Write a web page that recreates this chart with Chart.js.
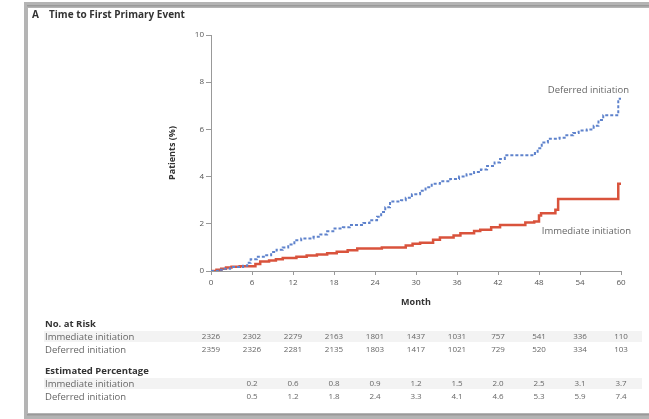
<!DOCTYPE html>
<html>
<head>
<meta charset="utf-8">
<script src="https://cdn.jsdelivr.net/npm/chart.js@4.4.0/dist/chart.umd.min.js"></script>
<style>
  html, body { margin: 0; padding: 0; background: #fff; overflow: hidden; }
  canvas { display: block; }
</style>
</head>
<body>
<canvas id="c" width="649" height="419"></canvas>
<script>
// ---- Data ----
const monthTicks = [0, 6, 12, 18, 24, 30, 36, 42, 48, 54, 60];
const yTicks = [0, 2, 4, 6, 8, 10];

// Step points (month, cumulative %)
const deferredMonths = [0, 1, 2, 2.8, 4.7, 5.3, 5.8, 6.7, 7.9, 8.8, 9.6, 10.5, 11.3, 12.2, 13.2, 15, 16, 17, 17.9, 19.3, 20.3, 22.3, 23.2, 24.3, 24.9, 25.5, 26.2, 27.8, 28.5, 29.4, 30.6, 31.4, 32.3, 33.5, 35, 36.3, 37.4, 38.5, 39.5, 40.4, 41.5, 42.3, 43, 47.4, 47.8, 48.4, 49.3, 51, 52, 53, 53.8, 55, 56, 56.7, 57.4, 59.6, 60];
const deferredPct    = [0, 0.05, 0.1, 0.17, 0.22, 0.35, 0.5, 0.6, 0.67, 0.8, 0.9, 1.0, 1.12, 1.3, 1.38, 1.45, 1.55, 1.68, 1.8, 1.85, 1.95, 2.03, 2.15, 2.3, 2.5, 2.7, 2.95, 3.0, 3.1, 3.25, 3.4, 3.55, 3.7, 3.8, 3.9, 4.0, 4.1, 4.2, 4.3, 4.45, 4.6, 4.75, 4.9, 5.0, 5.2, 5.45, 5.6, 5.65, 5.75, 5.85, 5.95, 6.0, 6.15, 6.4, 6.6, 7.3, 7.3];

const immediateMonths = [0, 0.8, 1.5, 2.2, 3, 4.2, 6.5, 7.2, 8.5, 9.5, 10.5, 12.5, 14, 15.5, 17, 18.4, 20, 21.4, 25, 28.5, 29.5, 30.6, 32.5, 33.5, 35.5, 36.5, 38.5, 39.4, 41, 42.3, 46, 47.3, 48, 48.3, 50.4, 50.8, 59.6, 60];
const immediatePct    = [0, 0.05, 0.1, 0.15, 0.18, 0.2, 0.3, 0.4, 0.45, 0.5, 0.55, 0.6, 0.66, 0.7, 0.75, 0.82, 0.88, 0.95, 1.0, 1.08, 1.15, 1.2, 1.32, 1.42, 1.5, 1.6, 1.7, 1.75, 1.85, 1.95, 2.05, 2.1, 2.35, 2.45, 2.6, 3.05, 3.7, 3.7];

const riskImmediate = ["2326", "2302", "2279", "2163", "1801", "1437", "1031", "757", "541", "336", "110"];
const riskDeferred  = ["2359", "2326", "2281", "2135", "1803", "1417", "1021", "729", "520", "334", "103"];
const pctImmediate  = ["", "0.2", "0.6", "0.8", "0.9", "1.2", "1.5", "2.0", "2.5", "3.1", "3.7"];
const pctDeferred   = ["", "0.5", "1.2", "1.8", "2.4", "3.3", "4.1", "4.6", "5.3", "5.9", "7.4"];

const FONT = '"Open Sans", Lato, sans-serif';

function toXY(xs, ys) { return xs.map((x, i) => ({ x: x, y: ys[i] })); }

const framePlugin = {
  id: 'frame',
  beforeDraw(chart) {
    const ctx = chart.ctx;
    ctx.save();
    ctx.fillStyle = '#fff';
    ctx.fillRect(0, 0, chart.width, chart.height);
    ctx.fillStyle = '#b4b4b4';
    ctx.fillRect(24, 2, chart.width - 24, 6);   // top
    ctx.fillRect(24, 2, 4, 417);                 // left
    ctx.fillRect(24, 413, chart.width - 24, 6);  // bottom
    ctx.fillStyle = '#999';
    ctx.fillRect(27, 5, chart.width - 27, 1.5);
    ctx.fillRect(27, 414, chart.width - 27, 1.5);
    ctx.restore();
  }
};

const textPlugin = {
  id: 'texts',
  afterDraw(chart) {
    const ctx = chart.ctx;
    const xs = chart.scales.x;
    const ca = chart.chartArea;
    ctx.save();
    // Panel title
    ctx.fillStyle = '#333';
    ctx.textBaseline = 'middle';
    ctx.textAlign = 'left';
    ctx.font = 'bold 10px ' + FONT;
    ctx.fillText('A', 32, 15);
    ctx.fillText('Time to First Primary Event', 49, 15);

    // Axis titles
    ctx.font = 'bold 9px ' + FONT;
    ctx.textAlign = 'center';
    ctx.fillText('Month', (ca.left + ca.right) / 2, 302);
    ctx.save();
    ctx.translate(172, (ca.top + ca.bottom) / 2);
    ctx.rotate(-Math.PI / 2);
    ctx.fillText('Patients (%)', 0, 0);
    ctx.restore();

    // Curve labels
    ctx.font = '9.5px ' + FONT;
    ctx.fillStyle = '#666';
    ctx.textAlign = 'right';
    ctx.fillText('Deferred initiation', 629, 90);
    ctx.fillText('Immediate initiation', 631, 231);

    // Table stripes
    ctx.fillStyle = '#f3f3f3';
    ctx.fillRect(44, 331, 598, 11);
    ctx.fillRect(44, 378, 598, 11);

    // Table headers
    ctx.fillStyle = '#333';
    ctx.textAlign = 'left';
    ctx.font = 'bold 9.5px ' + FONT;
    ctx.fillText('No. at Risk', 45, 324);
    ctx.fillText('Estimated Percentage', 45, 371);
    ctx.font = '9.5px ' + FONT;
    ctx.fillStyle = '#666';
    ctx.fillText('Immediate initiation', 45, 337);
    ctx.fillText('Deferred initiation', 45, 350);
    ctx.fillText('Immediate initiation', 45, 384);
    ctx.fillText('Deferred initiation', 45, 397);

    ctx.textAlign = 'center';
    ctx.font = '8px ' + FONT;
    monthTicks.forEach((m, i) => {
      const px = xs.getPixelForValue(m);
      ctx.fillText(riskImmediate[i], px, 337);
      ctx.fillText(riskDeferred[i], px, 350);
      if (pctImmediate[i]) ctx.fillText(pctImmediate[i], px, 384);
      if (pctDeferred[i]) ctx.fillText(pctDeferred[i], px, 397);
    });
    ctx.restore();
  }
};

new Chart(document.getElementById('c'), {
  type: 'line',
  data: {
    datasets: [
      {
        label: 'Deferred initiation',
        data: toXY(deferredMonths, deferredPct),
        stepped: 'before',
        borderColor: '#5e82cc',
        borderWidth: 2,
        borderDash: [3, 2],
        pointRadius: 0,
        fill: false
      },
      {
        label: 'Immediate initiation',
        data: toXY(immediateMonths, immediatePct),
        stepped: 'before',
        borderColor: '#d9533c',
        borderWidth: 2.5,
        pointRadius: 0,
        fill: false
      }
    ]
  },
  options: {
    responsive: false,
    animation: false,
    devicePixelRatio: 1,
    layout: { padding: { left: 0, right: 28, top: 35, bottom: 0 } },
    plugins: { legend: { display: false }, tooltip: { enabled: false } },
    scales: {
      x: {
        type: 'linear',
        min: 0, max: 60,
        afterBuildTicks(scale) { scale.ticks = monthTicks.map(v => ({ value: v })); },
        afterFit(scale) { scale.height = 148; },
        grid: { drawOnChartArea: false, drawTicks: true, tickLength: 4, color: '#999' },
        border: { display: true, color: '#999', width: 1 },
        ticks: { color: '#555', font: { family: FONT, size: 8 }, padding: 3, maxRotation: 0 }
      },
      y: {
        type: 'linear',
        min: 0, max: 10,
        afterBuildTicks(scale) { scale.ticks = yTicks.map(v => ({ value: v })); },
        afterFit(scale) { scale.width = 211; },
        grid: { drawOnChartArea: false, drawTicks: true, tickLength: 5, color: '#999' },
        border: { display: true, color: '#999', width: 1 },
        ticks: { color: '#555', font: { family: FONT, size: 8 }, padding: 2 }
      }
    }
  },
  plugins: [framePlugin, textPlugin]
});
</script>
</body>
</html>
